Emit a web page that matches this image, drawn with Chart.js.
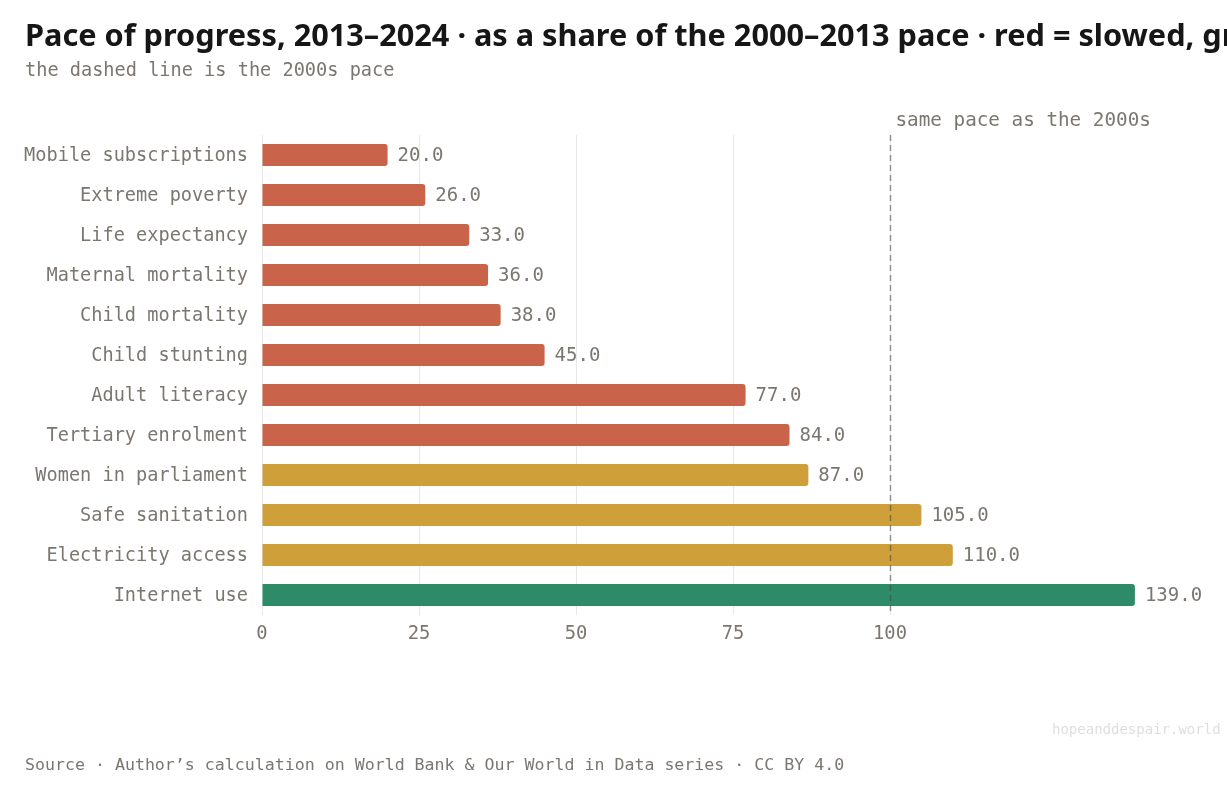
<!DOCTYPE html>
<html><head><meta charset="utf-8">
<script src="https://cdn.jsdelivr.net/npm/chart.js@4/dist/chart.umd.min.js"></script>
<style>
html,body{margin:0;padding:0;background:#fff;width:1227px;height:789px;overflow:hidden;}
#wrap{position:relative;width:1227px;height:789px;}
canvas{position:absolute;left:0;top:0;}
.t{position:absolute;white-space:nowrap;}
#title{left:25px;top:13px;font:700 30.7px "Noto Sans",sans-serif;color:#161616;}
#sub{left:25px;top:59px;font:18.6px "DejaVu Sans Mono",monospace;color:#7b766f;}
#foot{left:25px;top:755px;font:16.6px "DejaVu Sans Mono",monospace;color:#7b766f;}
#wm{left:1052px;top:721px;font:14px "DejaVu Sans Mono",monospace;color:#dedede;}
</style></head>
<body><div id="wrap">
<canvas id="c" width="1227" height="789"></canvas>
<div class="t" id="title">Pace of progress, 2013–2024 · as a share of the 2000–2013 pace · red = slowed, green = sped up</div>
<div class="t" id="sub">the dashed line is the 2000s pace</div>
<div class="t" id="foot">Source · Author’s calculation on World Bank &amp; Our World in Data series · CC BY 4.0</div>
<div class="t" id="wm">hopeanddespair.world</div>
</div>
<script>
const categories = ["Mobile subscriptions","Extreme poverty","Life expectancy","Maternal mortality","Child mortality","Child stunting","Adult literacy","Tertiary enrolment","Women in parliament","Safe sanitation","Electricity access","Internet use"];
const paceShare = [20,26,33,36,38,45,77,84,87,105,110,139];
const xTicks = [0,25,50,75,100];
const referencePace = 100;

const RED="#c9634a", GOLD="#cf9f3a", GREEN="#2e8b68";
const colors = paceShare.map(v => v < 85 ? RED : (v < 120 ? GOLD : GREEN));
const mono = '"DejaVu Sans Mono", monospace';
const grey = '#7b766f';

const overlay = {
  id:'overlay',
  afterDatasetsDraw(chart){
    const {ctx, chartArea:a, scales:{x}} = chart;
    const meta = chart.getDatasetMeta(0);
    ctx.save();
    ctx.font = '19px ' + mono;
    ctx.fillStyle = grey;
    ctx.textBaseline = 'middle';
    ctx.textAlign = 'left';
    meta.data.forEach((bar,i)=>{
      ctx.fillText(paceShare[i].toFixed(1), bar.x + 10, bar.y + 1);
    });
    const px = Math.round(x.getPixelForValue(referencePace)) + 0.5;
    ctx.strokeStyle = 'rgba(70,70,70,0.55)';
    ctx.lineWidth = 1.5;
    ctx.setLineDash([6,4]);
    ctx.beginPath(); ctx.moveTo(px, a.top); ctx.lineTo(px, a.bottom); ctx.stroke();
    ctx.setLineDash([]);
    ctx.textBaseline = 'alphabetic';
    ctx.font = '19.3px ' + mono;
    ctx.fillText('same pace as the 2000s', px + 5, a.top - 9);
    ctx.restore();
  }
};

new Chart(document.getElementById('c'), {
  type:'bar',
  data:{labels:categories, datasets:[{data:paceShare, backgroundColor:colors, borderRadius:3, borderSkipped:'start', barPercentage:0.55, categoryPercentage:1}]},
  options:{
    indexAxis:'y', responsive:false, animation:false,
    layout:{padding:{top:135,right:23,bottom:134,left:0}},
    plugins:{legend:{display:false}, tooltip:{enabled:false}},
    scales:{
      x:{min:0,max:150,
        afterBuildTicks(s){ s.ticks = xTicks.map(v=>({value:v})); },
        afterFit(s){ s.height = 40; },
        grid:{color:'#e8e8e8', drawTicks:false, lineWidth:1},
        border:{display:false},
        ticks:{font:{family:mono,size:18.8}, color:grey, padding:8}
      },
      y:{
        afterFit(s){ s.width = 262; },
        grid:{display:false, drawTicks:false},
        border:{display:false},
        ticks:{font:{family:mono,size:18.6}, color:grey, padding:14, labelOffset:1}
      }
    }
  },
  plugins:[overlay]
});
</script>
</body></html>
